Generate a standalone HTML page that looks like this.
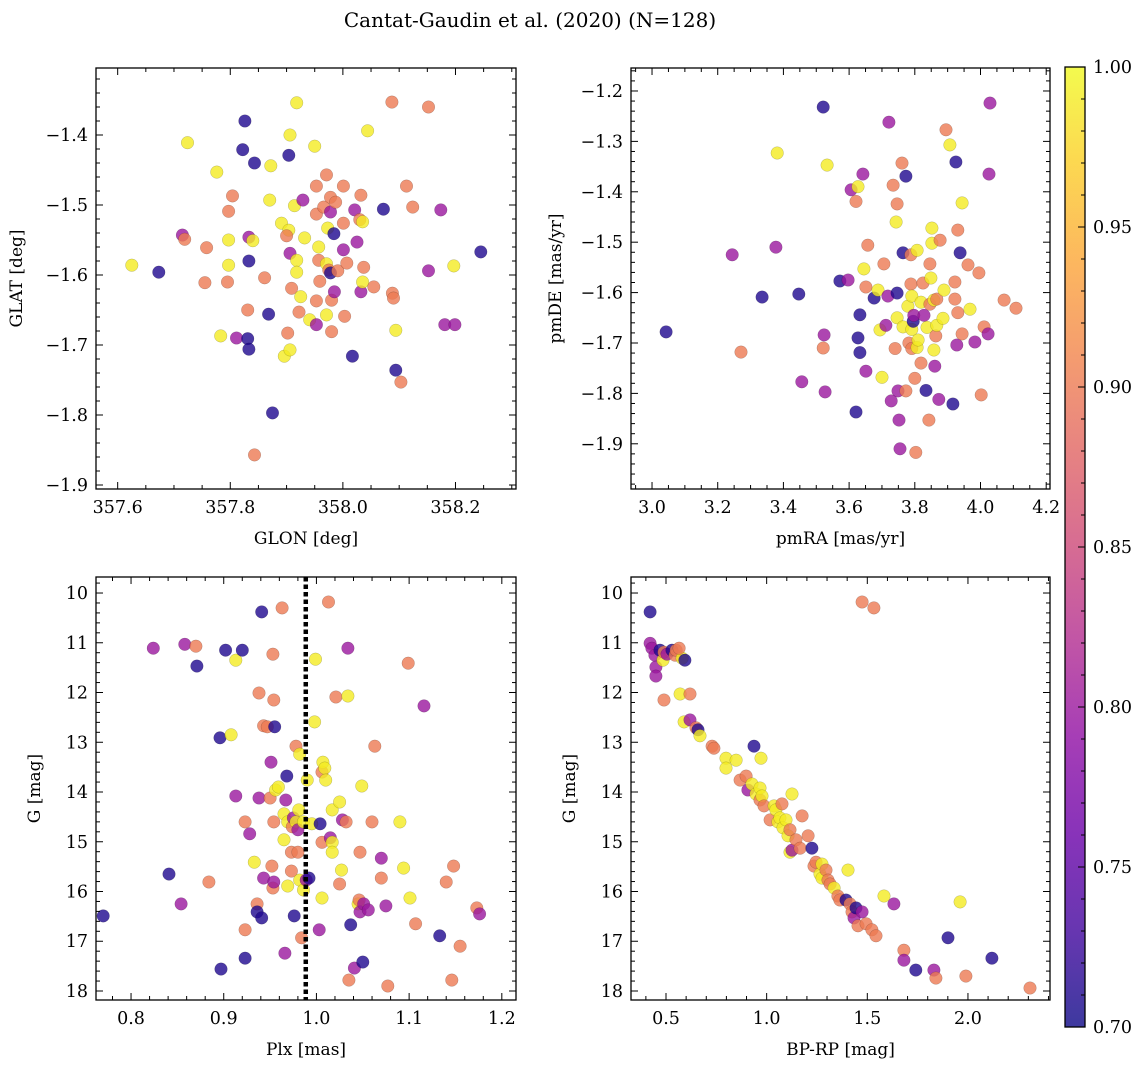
<!DOCTYPE html>
<html><head><meta charset="utf-8"><style>
html,body{margin:0;padding:0;background:#fff;}
svg{display:block;font-family:"DejaVu Serif","Liberation Serif",serif;}
</style></head><body>
<svg id="fig" width="1148" height="1067" viewBox="0 0 1148 1067" xmlns="http://www.w3.org/2000/svg">
<text x="530" y="27" text-anchor="middle" font-size="20">Cantat-Gaudin et al. (2020) (N=128)</text>
</svg>
<script>
// ---- data: probability classes N=0.71 P=0.80 S=0.90 Y=0.99 ----
const p1glon=[357.625,357.673,357.724,357.715,357.719,357.758,357.755,357.776,357.783,357.797,357.797,357.795,357.804,357.797,357.811,357.822,357.826,357.833,357.840,357.833,357.831,357.831,357.833,357.843,357.843,357.861,357.868,357.872,357.875,357.870,357.891,357.904,357.918,357.906,357.904,357.900,357.906,357.896,357.906,357.902,357.909,357.918,357.914,357.918,357.925,357.922,357.932,357.929,357.941,357.950,357.953,357.953,357.957,357.957,357.959,357.953,357.953,357.966,357.971,357.971,357.973,357.978,357.980,357.978,357.984,357.975,357.978,357.971,357.991,357.985,357.980,357.987,358.001,358.001,358.001,358.007,358.003,358.021,358.017,358.025,358.030,358.035,358.032,358.032,358.037,358.035,358.044,358.055,358.072,358.087,358.088,358.090,358.094,358.094,358.103,358.113,358.124,358.152,358.152,358.174,358.181,358.199,358.197,358.245];
const p1glat=[-1.586,-1.596,-1.411,-1.543,-1.549,-1.561,-1.611,-1.453,-1.687,-1.586,-1.550,-1.610,-1.487,-1.509,-1.690,-1.421,-1.380,-1.546,-1.551,-1.580,-1.650,-1.691,-1.706,-1.440,-1.857,-1.604,-1.656,-1.444,-1.797,-1.493,-1.526,-1.536,-1.354,-1.400,-1.429,-1.544,-1.569,-1.716,-1.707,-1.683,-1.619,-1.579,-1.501,-1.596,-1.631,-1.653,-1.547,-1.493,-1.664,-1.416,-1.473,-1.513,-1.560,-1.579,-1.609,-1.637,-1.671,-1.503,-1.457,-1.584,-1.533,-1.489,-1.636,-1.510,-1.541,-1.593,-1.597,-1.657,-1.594,-1.624,-1.681,-1.496,-1.473,-1.526,-1.564,-1.583,-1.659,-1.507,-1.716,-1.553,-1.521,-1.524,-1.486,-1.624,-1.589,-1.610,-1.394,-1.617,-1.506,-1.353,-1.626,-1.633,-1.679,-1.736,-1.753,-1.473,-1.503,-1.360,-1.594,-1.507,-1.671,-1.671,-1.587,-1.567];
const p1prob=[0.99,0.71,0.99,0.80,0.90,0.90,0.90,0.99,0.99,0.99,0.99,0.90,0.90,0.90,0.80,0.71,0.71,0.80,0.99,0.71,0.90,0.71,0.71,0.71,0.90,0.90,0.71,0.99,0.71,0.99,0.99,0.99,0.99,0.99,0.71,0.90,0.80,0.99,0.99,0.90,0.90,0.99,0.99,0.99,0.99,0.90,0.99,0.80,0.99,0.99,0.90,0.90,0.99,0.90,0.90,0.90,0.80,0.90,0.90,0.99,0.99,0.90,0.90,0.80,0.71,0.90,0.71,0.99,0.90,0.80,0.90,0.90,0.90,0.90,0.80,0.90,0.90,0.80,0.71,0.80,0.90,0.99,0.90,0.80,0.90,0.99,0.99,0.90,0.71,0.90,0.90,0.90,0.99,0.71,0.90,0.90,0.90,0.90,0.80,0.80,0.80,0.80,0.99,0.71];

const p2pmra=[3.043,3.271,3.244,3.377,3.381,3.335,3.447,3.456,3.521,3.533,3.524,3.521,3.527,3.572,3.606,3.597,3.621,3.627,3.642,3.633,3.627,3.633,3.621,3.645,3.657,3.651,3.651,3.676,3.688,3.694,3.700,3.706,3.712,3.721,3.718,3.734,3.728,3.746,3.740,3.743,3.746,3.746,3.749,3.752,3.755,3.761,3.764,3.773,3.773,3.764,3.779,3.782,3.788,3.788,3.791,3.791,3.791,3.800,3.803,3.795,3.797,3.807,3.807,3.810,3.819,3.819,3.825,3.828,3.834,3.837,3.843,3.846,3.846,3.849,3.852,3.852,3.858,3.858,3.861,3.864,3.867,3.867,3.873,3.877,3.886,3.889,3.895,3.907,3.916,3.922,3.922,3.925,3.928,3.931,3.931,3.938,3.944,3.944,3.962,3.968,3.983,3.995,4.002,4.011,4.023,4.026,4.029,4.072,4.108];
const p2pmde=[-1.678,-1.718,-1.525,-1.510,-1.323,-1.609,-1.603,-1.777,-1.232,-1.347,-1.684,-1.710,-1.797,-1.577,-1.396,-1.575,-1.419,-1.390,-1.365,-1.644,-1.690,-1.719,-1.837,-1.553,-1.506,-1.589,-1.756,-1.611,-1.595,-1.674,-1.768,-1.543,-1.665,-1.262,-1.607,-1.387,-1.815,-1.601,-1.711,-1.460,-1.424,-1.650,-1.795,-1.853,-1.910,-1.343,-1.521,-1.369,-1.795,-1.668,-1.627,-1.700,-1.525,-1.583,-1.673,-1.711,-1.607,-1.770,-1.917,-1.657,-1.645,-1.516,-1.709,-1.694,-1.740,-1.619,-1.581,-1.645,-1.794,-1.669,-1.853,-1.623,-1.543,-1.571,-1.502,-1.472,-1.615,-1.714,-1.746,-1.686,-1.665,-1.613,-1.812,-1.496,-1.651,-1.595,-1.277,-1.307,-1.821,-1.613,-1.579,-1.341,-1.704,-1.476,-1.640,-1.521,-1.682,-1.422,-1.545,-1.633,-1.698,-1.561,-1.803,-1.668,-1.682,-1.365,-1.224,-1.615,-1.631];
const p2prob=[0.71,0.90,0.80,0.80,0.99,0.71,0.71,0.80,0.71,0.99,0.80,0.90,0.80,0.71,0.80,0.80,0.90,0.99,0.80,0.71,0.71,0.71,0.71,0.99,0.90,0.90,0.80,0.71,0.99,0.99,0.99,0.90,0.80,0.80,0.80,0.90,0.80,0.71,0.90,0.99,0.90,0.99,0.80,0.80,0.80,0.90,0.71,0.71,0.90,0.99,0.99,0.90,0.90,0.90,0.99,0.90,0.99,0.90,0.90,0.71,0.80,0.99,0.99,0.99,0.90,0.99,0.90,0.80,0.71,0.99,0.90,0.90,0.90,0.99,0.99,0.99,0.99,0.99,0.80,0.90,0.99,0.90,0.80,0.90,0.99,0.99,0.90,0.99,0.71,0.90,0.90,0.71,0.80,0.90,0.90,0.71,0.90,0.99,0.90,0.99,0.80,0.90,0.90,0.90,0.80,0.80,0.80,0.90,0.90];

const p3plx=[0.770,0.824,0.841,0.854,0.858,0.870,0.871,0.884,0.897,0.896,0.902,0.908,0.913,0.913,0.920,0.923,0.923,0.923,0.928,0.933,0.936,0.936,0.938,0.938,0.941,0.941,0.943,0.943,0.947,0.950,0.951,0.952,0.953,0.953,0.954,0.954,0.954,0.955,0.956,0.959,0.963,0.966,0.965,0.965,0.967,0.968,0.969,0.969,0.973,0.973,0.974,0.975,0.976,0.978,0.978,0.980,0.980,0.981,0.982,0.982,0.984,0.986,0.986,0.989,0.990,0.992,0.995,0.998,0.999,1.004,1.003,1.006,1.006,1.006,1.007,1.009,1.010,1.013,1.015,1.017,1.017,1.017,1.021,1.025,1.025,1.027,1.028,1.032,1.034,1.034,1.035,1.037,1.041,1.045,1.046,1.047,1.047,1.049,1.050,1.051,1.056,1.060,1.063,1.070,1.070,1.075,1.077,1.090,1.094,1.099,1.101,1.107,1.116,1.133,1.140,1.146,1.148,1.155,1.173,1.176];
const p3g=[16.49,11.11,15.65,16.25,11.03,11.07,11.47,15.81,17.56,12.91,11.15,12.85,14.08,11.35,11.15,14.60,16.77,17.34,14.84,15.41,16.25,16.41,14.12,12.01,10.38,16.53,15.73,12.67,12.69,14.12,13.40,15.49,15.93,11.23,12.15,14.60,15.81,12.69,13.96,13.90,10.30,17.24,14.96,14.44,14.16,13.68,15.89,14.60,15.21,15.59,14.70,14.52,16.49,13.08,14.60,14.76,15.21,14.36,13.24,15.77,16.93,14.60,15.97,15.77,13.76,15.73,14.64,12.59,11.33,14.64,16.77,16.13,13.60,15.01,13.40,13.52,13.76,10.18,14.92,15.01,14.36,15.21,12.09,14.20,15.85,15.57,14.56,14.60,12.07,11.11,17.78,16.67,17.54,16.25,16.17,16.41,15.21,13.88,17.42,16.25,16.37,14.60,13.08,15.33,15.73,16.29,17.90,14.60,15.53,11.41,16.13,16.65,12.27,16.89,15.81,17.78,15.49,17.10,16.33,16.45];
const p3prob=[0.71,0.80,0.71,0.80,0.80,0.90,0.71,0.90,0.71,0.71,0.71,0.99,0.80,0.99,0.71,0.90,0.90,0.71,0.80,0.99,0.90,0.71,0.80,0.90,0.71,0.71,0.80,0.90,0.90,0.90,0.80,0.90,0.90,0.90,0.90,0.90,0.80,0.71,0.99,0.99,0.90,0.80,0.99,0.99,0.80,0.71,0.99,0.99,0.90,0.90,0.90,0.80,0.71,0.90,0.99,0.80,0.90,0.99,0.99,0.99,0.90,0.99,0.99,0.80,0.99,0.71,0.99,0.99,0.99,0.71,0.80,0.99,0.90,0.90,0.99,0.99,0.99,0.90,0.80,0.99,0.99,0.99,0.90,0.99,0.90,0.99,0.80,0.90,0.99,0.80,0.90,0.71,0.80,0.99,0.90,0.80,0.90,0.99,0.71,0.80,0.80,0.90,0.90,0.80,0.90,0.80,0.90,0.99,0.99,0.90,0.99,0.90,0.80,0.71,0.90,0.90,0.90,0.90,0.90,0.80];

const p4bprp=[0.421,0.421,0.430,0.445,0.450,0.450,0.470,0.485,0.490,0.505,0.530,0.545,0.550,0.580,0.565,0.594,0.490,0.570,0.619,0.590,0.619,0.649,0.659,0.669,0.729,0.738,0.798,0.798,0.848,0.937,0.868,0.898,0.907,0.927,0.947,0.967,0.967,0.977,0.987,0.972,1.017,1.037,1.046,1.056,1.066,1.081,1.096,1.106,1.116,1.076,1.126,1.116,1.126,1.146,1.166,1.176,1.206,1.225,1.235,1.245,1.265,1.275,1.275,1.295,1.305,1.315,1.335,1.354,1.364,1.394,1.404,1.414,1.424,1.434,1.444,1.454,1.474,1.494,1.523,1.543,1.583,1.632,1.682,1.682,1.741,1.831,1.841,1.901,1.961,1.990,2.119,2.308,1.474,1.533];
const p4g=[10.38,11.01,11.11,11.25,11.49,11.67,11.15,11.35,11.19,11.23,11.15,11.25,11.15,11.31,11.11,11.35,12.15,12.03,12.03,12.59,12.55,12.71,12.75,12.87,13.08,13.12,13.32,13.52,13.36,13.08,13.76,13.68,13.96,13.84,14.04,14.16,13.92,14.08,14.28,13.32,14.56,14.28,14.36,14.60,14.52,14.72,14.56,14.88,14.76,14.24,14.04,15.21,15.17,14.96,15.13,14.48,14.88,15.13,15.49,15.41,15.65,15.73,15.45,15.57,15.77,15.85,15.93,16.09,16.17,16.17,15.57,16.25,16.41,16.53,16.33,16.69,16.41,16.65,16.77,16.89,16.09,16.25,17.18,17.38,17.58,17.58,17.74,16.93,16.21,17.70,17.34,17.94,10.18,10.30];
const p4prob=[0.71,0.80,0.80,0.80,0.80,0.80,0.71,0.99,0.90,0.80,0.71,0.90,0.90,0.99,0.90,0.71,0.90,0.99,0.90,0.99,0.80,0.90,0.71,0.99,0.90,0.90,0.99,0.99,0.99,0.71,0.90,0.90,0.80,0.99,0.99,0.90,0.99,0.99,0.90,0.99,0.90,0.99,0.99,0.99,0.99,0.99,0.99,0.99,0.90,0.90,0.99,0.99,0.80,0.90,0.90,0.90,0.90,0.71,0.90,0.90,0.99,0.99,0.99,0.90,0.90,0.90,0.99,0.90,0.90,0.71,0.99,0.90,0.90,0.80,0.71,0.90,0.80,0.90,0.90,0.90,0.99,0.80,0.90,0.80,0.71,0.80,0.90,0.71,0.99,0.90,0.71,0.90,0.90,0.90];

const cbTicks=[0.70,0.75,0.80,0.85,0.90,0.95,1.00];
const plasma=[[13,8,135],[65,4,157],[106,0,168],[143,13,164],[177,42,144],[204,71,120],[225,100,98],[242,132,75],[252,166,54],[252,206,37],[240,249,33]];

const NS="http://www.w3.org/2000/svg";
const svg=document.getElementById('fig');
function mk(tag,attrs,parent){const e=document.createElementNS(NS,tag);for(const k in attrs)e.setAttribute(k,attrs[k]);(parent||svg).appendChild(e);return e;}
function cmap(v){let t=(v-0.70)/0.30;t=Math.max(0,Math.min(1,t));const f=t*10,i=Math.min(9,Math.floor(f)),r=f-i;const a=plasma[i],b=plasma[i+1];return 'rgb('+a.map((c,k)=>Math.round(c+(b[k]-c)*r)).join(',')+')';}
function lin(d0,d1,r0,r1){return v=>r0+(v-d0)/(d1-d0)*(r1-r0);}

function panel(cfg){
  const g=mk('g',{});
  
  
  const {L,T,R,B}=cfg;
  const sx=lin(cfg.xd[0],cfg.xd[1],L,R), sy=lin(cfg.yd[0],cfg.yd[1],T,B);
  const pg=mk('g',{},g);
  
  
  for(let i=0;i<cfg.xs.length;i++){
    const c=mk('circle',{cx:sx(cfg.xs[i]).toFixed(1),cy:sy(cfg.ys[i]).toFixed(1),r:6.3,fill:cmap(cfg.ps[i]),'fill-opacity':0.8,stroke:'rgba(0,0,0,0.25)','stroke-width':0.5},pg);
    
    
  }
  if(cfg.extra) cfg.extra(g,sx,sy);
  const fr=mk('rect',{x:L,y:T,width:R-L,height:B-T,fill:'none',stroke:'#000','stroke-width':1.3},g);
  
  
  const xlo=Math.min(...cfg.xd), xhi=Math.max(...cfg.xd);
  const stepX=cfg.xmaj/cfg.xn;
  for(let k=Math.ceil(xlo/stepX-1e-6);k*stepX<=xhi+1e-9;k++){
    const v=k*stepX, x=sx(v), major=Math.abs(v/cfg.xmaj-Math.round(v/cfg.xmaj))<1e-6;
    const len=major?7:4;
    mk('line',{x1:x,x2:x,y1:B,y2:B-len,stroke:'#000','stroke-width':1},g);
    mk('line',{x1:x,x2:x,y1:T,y2:T+len,stroke:'#000','stroke-width':1},g);
    if(major){const t=mk('text',{x:x,y:B+24,'text-anchor':'middle','font-size':17.5},g);t.textContent=v.toFixed(cfg.xdec);
      }
  }
  const ylo=Math.min(...cfg.yd), yhi=Math.max(...cfg.yd);
  const stepY=cfg.ymaj/cfg.yn;
  for(let k=Math.ceil(ylo/stepY-1e-6);k*stepY<=yhi+1e-9;k++){
    const v=k*stepY, y=sy(v), major=Math.abs(v/cfg.ymaj-Math.round(v/cfg.ymaj))<1e-6;
    const len=major?7:4;
    mk('line',{x1:L,x2:L+len,y1:y,y2:y,stroke:'#000','stroke-width':1},g);
    mk('line',{x1:R,x2:R-len,y1:y,y2:y,stroke:'#000','stroke-width':1},g);
    if(major){const t=mk('text',{x:L-8,y:y+6,'text-anchor':'end','font-size':17.5},g);
      let s=v.toFixed(cfg.ydec); if(s.startsWith('-')) s='\u2212'+s.slice(1); t.textContent=s;
      }
  }
  const xl=mk('text',{x:(L+R)/2,y:B+55,'text-anchor':'middle','font-size':17},g);xl.textContent=cfg.xlabel;
  
  const cy=(T+B)/2, cx=L-cfg.ylx;
  const yl=mk('text',{x:cx,y:cy,'text-anchor':'middle','font-size':17,transform:'rotate(-90 '+cx+' '+cy+')'},g);yl.textContent=cfg.ylabel;
  
}

panel({name:'glon-glat-panel',L:96,T:68,R:516,B:489,xd:[357.5615,358.3075],yd:[-1.3043,-1.9057],xmaj:0.2,xn:4,ymaj:0.1,yn:5,xdec:1,ydec:1,
  xs:p1glon,ys:p1glat,ps:p1prob,xlabel:'GLON [deg]',ylabel:'GLAT [deg]',ylx:74});
panel({name:'proper-motion-panel',L:631,T:68,R:1050,B:489,xd:[2.936,4.2116],yd:[-1.1544,-1.9897],xmaj:0.2,xn:4,ymaj:0.1,yn:5,xdec:1,ydec:1,
  xs:p2pmra,ys:p2pmde,ps:p2prob,xlabel:'pmRA [mas/yr]',ylabel:'pmDE [mas/yr]',ylx:70});
panel({name:'parallax-magnitude-panel',L:96,T:577,R:516,B:1000,xd:[0.7622,1.2153],yd:[9.678,18.181],xmaj:0.1,xn:5,ymaj:1,yn:5,xdec:1,ydec:0,
  xs:p3plx,ys:p3g,ps:p3prob,xlabel:'Plx [mas]',ylabel:'G [mag]',ylx:56,
  extra:(g,sx,sy)=>{const x=sx(0.9885);const l=mk('line',{x1:x,x2:x,y1:577,y2:1000,stroke:'#000','stroke-width':4.5,'stroke-dasharray':'4.5 3'},g);
    }});
panel({name:'color-magnitude-panel',L:631,T:577,R:1050,B:1000,xd:[0.3261,2.4076],yd:[9.678,18.181],xmaj:0.5,xn:5,ymaj:1,yn:5,xdec:1,ydec:0,
  xs:p4bprp,ys:p4g,ps:p4prob,xlabel:'BP-RP [mag]',ylabel:'G [mag]',ylx:56});

const cb=mk('g',{});


const defs=mk('defs',{},cb);
const grad=mk('linearGradient',{id:'cbg',x1:0,y1:1,x2:0,y2:0},defs);
for(let i=0;i<=10;i++){mk('stop',{offset:(i/10),'stop-color':'rgb('+plasma[i].join(',')+')','stop-opacity':0.8},grad);}
const CBT=67,CBB=1027,CBL=1065,CBR=1085;
const cy=lin(0.70,1.00,CBB,CBT);
mk('rect',{x:CBL,y:CBT,width:CBR-CBL,height:CBB-CBT,fill:'url(#cbg)',stroke:'#000','stroke-width':1.3},cb);
for(let k=0;k<=30;k++){const v=0.70+k*0.01,y=cy(v),maj=k%5===0;
  mk('line',{x1:CBR,x2:CBR-(maj?7:4),y1:y,y2:y,stroke:'#000','stroke-width':1},cb);}
cbTicks.forEach(v=>{const t=mk('text',{x:CBR+8,y:cy(v)+6,'font-size':17.5},cb);t.textContent=v.toFixed(2);
  });
</script>
</body></html>
